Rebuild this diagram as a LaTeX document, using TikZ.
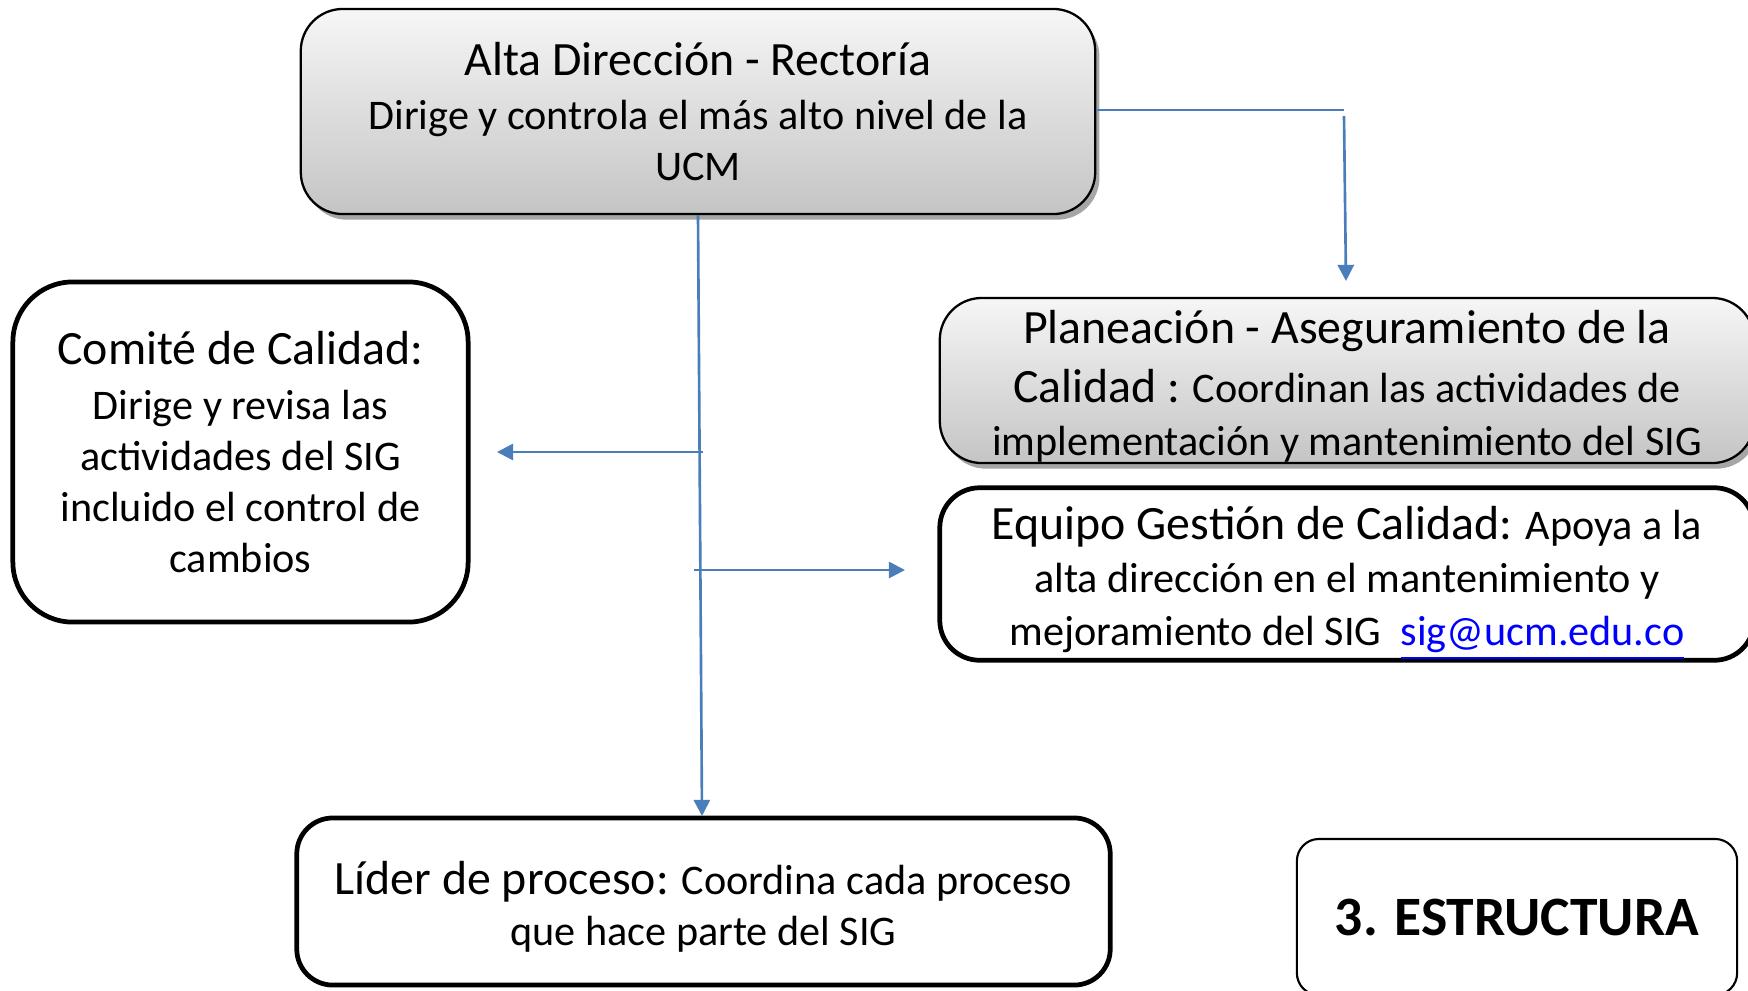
\documentclass[tikz,border=0pt]{standalone}
\usepackage{fontspec}
\setmainfont{Carlito}
\usetikzlibrary{arrows.meta,shadows}
\definecolor{linkblue}{HTML}{4A7EBB}
\definecolor{urlblue}{HTML}{0000FF}
\newcommand{\bigtxt}{\fontsize{13.6}{14.5}\selectfont}
\newcommand{\strutup}[1]{\rule{0pt}{#1}}
\begin{document}
\begin{tikzpicture}[x=0.01cm,y=-0.01cm,
  every node/.style={inner sep=0pt, align=center, font=\fontsize{12}{14.5}\selectfont},
  widespace/.style={font=\fontsize{12}{15.2}\selectfont},
  graybox/.style={draw=black, line width=0.65pt, rounded corners=0.42cm,
    top color=gray!7, bottom color=gray!46,
    drop shadow={shadow xshift=1.2pt, shadow yshift=-1.6pt, opacity=0.35, fill=black}},
  whitebox/.style={draw=black, line width=1.35pt, fill=white, rounded corners=0.4cm},
  conn/.style={draw=linkblue, line width=0.75pt},
  arr/.style={conn, -{Triangle[length=4.6pt,width=4.6pt]}}
]
\useasboundingbox (0,0) rectangle (1748,990);

% Nodes
\node[graybox, minimum width=7.94cm, minimum height=2.05cm] (top) at (698,111.5)
  {\bigtxt Alta Dirección - Rectoría\\[0.8pt]
   Dirige y controla el más alto nivel de la\\
   UCM};

\node[graybox, widespace, minimum width=8.14cm, minimum height=1.65cm] (plan) at (1347,380.5)
  {\strutup{12.6pt}\bigtxt Planeación - Aseguramiento de la\\[1.6pt]
   {\bigtxt Calidad :} Coordinan las actividades de\\
   implementación y mantenimiento del SIG};

\node[whitebox, widespace, minimum width=8.14cm, minimum height=1.68cm] (equipo) at (1347,574)
  {\strutup{14.6pt}{\bigtxt Equipo Gestión de Calidad:} Apoya a la\\
   alta dirección en el mantenimiento y\\
   mejoramiento del SIG\ \ {\color{urlblue}\underline{sig@ucm.edu.co}}};

\node[whitebox, rounded corners=0.6cm, minimum width=4.55cm, minimum height=3.40cm] (comite) at (240.5,452)
  {\bigtxt Comité de Calidad:\\[1.2pt]
   Dirige y revisa las\\
   actividades del SIG\\
   incluido el control de\\
   cambios};

\node[whitebox, rounded corners=0.36cm, minimum width=8.13cm, minimum height=1.67cm] (lider) at (703.5,901.5)
  {\strutup{12.4pt}{\bigtxt Líder de proceso:} Coordina cada proceso\\
   que hace parte del SIG};

\node[draw=black, line width=0.6pt, rounded corners=0.22cm, minimum width=4.40cm, minimum height=1.56cm,
  font=\fontsize{15.8}{18}\selectfont\bfseries] (estr) at (1517,917)
  {3. ESTRUCTURA};

% Connector anchor points
\coordinate (c1) at (1344,110);
\coordinate (c2) at (1346,281);
\coordinate (c3) at (703,452);
\coordinate (c4) at (497,452);
\coordinate (c5) at (694,570);
\coordinate (c6) at (905,570);
\coordinate (c7) at (702,816);

% Connectors
\draw[conn] (top.east |- c1) -- (c1);
\draw[arr] (c1) ++(0,6) -- (c2);
\draw[arr] (top.south) -- (c7);
\draw[arr] (c3) -- (c4);
\draw[arr] (c5) -- (c6);
\end{tikzpicture}
\end{document}
